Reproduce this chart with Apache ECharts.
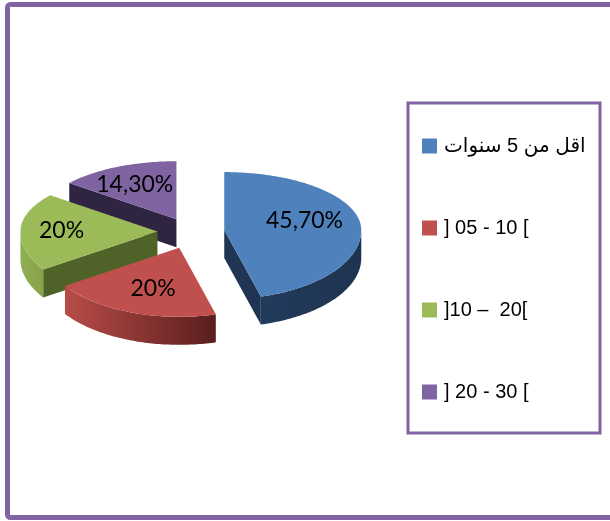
<!DOCTYPE html>
<html>
<head>
<meta charset="utf-8">
<script src="https://cdn.jsdelivr.net/npm/echarts@6/dist/echarts.min.js"></script>
<style>
html,body{margin:0;padding:0;background:#fff;}
#c{width:610px;height:521px;}
</style>
</head>
<body>
<div id="c"></div>
<script>
// ---- data ----
const categories = ['اقل من 5 سنوات', '] 05 - 10 [', ']10 –  20[', '] 20 - 30 ['];
const values = [45.7, 20, 20, 14.3];

// ---- styles ----
const topColors = ['#4F81BD', '#C0504D', '#9BBB59', '#8064A2'];
const radialColors = ['#1F3553', '#5C1F1E', '#4F6228', '#2F2543'];
const curvedColors = [
  ['#223B5C', '#1E3350'],
  ['#B84C49', '#5A1E1D'],
  ['#90AE52', '#86A34B'],
  ['#3F3158', '#3F3158']
];
const depthZ = [3, 4, 2, 1];
const labelNudge = [[-8, -4], [5, -1], [-7, 1], [-3, -1]];

const G = { cx: 191, cy: 232, rx: 137, ryB: 58, ryF: 69, h: 28, explode: 0.245, labelR: 0.65 };
const total = values.reduce((a, b) => a + b, 0);
const starts = [];
{ let acc = 0; values.forEach(v => { starts.push(acc / total * Math.PI * 2); acc += v; }); }

function pt(c, t, r) {
  const s = Math.sin(t), co = Math.cos(t);
  const ry = co > 0 ? G.ryB : G.ryF;
  return [c[0] + r * G.rx * s, c[1] - r * ry * co];
}
function arc(c, a0, a1, dy) {
  const pts = [];
  const n = Math.max(2, Math.ceil((a1 - a0) / (Math.PI / 180)));
  for (let k = 0; k <= n; k++) {
    const p = pt(c, a0 + (a1 - a0) * k / n, 1);
    pts.push([p[0], p[1] + dy]);
  }
  return pts;
}
function fmt(v) {
  return (Number.isInteger(v) ? String(v) : v.toFixed(2).replace('.', ',')) + '%';
}

function makeRender(i) {
  return function (params, api) {
    const v = api.value(0);
    const a0 = starts[i];
    const a1 = a0 + v / total * Math.PI * 2;
    const mid = (a0 + a1) / 2;
    const apex = pt([G.cx, G.cy], mid, G.explode);
    const h = G.h;
    const children = [];
    if (Math.sin(a0) < -1e-6) {
      const r = pt(apex, a0, 1);
      children.push({ type: 'polygon', z2: 1, shape: { points: [apex, r, [r[0], r[1] + h], [apex[0], apex[1] + h]] }, style: { fill: radialColors[i] } });
    }
    if (Math.sin(a1) > 1e-6) {
      const r = pt(apex, a1, 1);
      children.push({ type: 'polygon', z2: 1, shape: { points: [apex, r, [r[0], r[1] + h], [apex[0], apex[1] + h]] }, style: { fill: radialColors[i] } });
    }
    const c0 = Math.max(a0, Math.PI / 2), c1 = Math.min(a1, Math.PI * 3 / 2);
    if (c1 > c0) {
      const top = arc(apex, c0, c1, 0);
      const bot = arc(apex, c0, c1, h).reverse();
      children.push({
        type: 'polygon', z2: 2,
        shape: { points: top.concat(bot) },
        style: {
          fill: new echarts.graphic.LinearGradient(0, 0, 1, 0, [
            { offset: 0, color: curvedColors[i][0] },
            { offset: 1, color: curvedColors[i][1] }
          ])
        }
      });
    }
    children.push({ type: 'polygon', z2: 3, shape: { points: [apex].concat(arc(apex, a0, a1, 0)) }, style: { fill: topColors[i] } });
    const lp = pt(apex, mid, G.labelR);
    children.push({
      type: 'text', z2: 10,
      style: {
        text: fmt(v), x: lp[0] + labelNudge[i][0], y: lp[1] + labelNudge[i][1],
        align: 'center', verticalAlign: 'middle',
        font: '23px Lato, "Open Sans", sans-serif', fill: '#000'
      }
    });
    return { type: 'group', children: children };
  };
}

const series = categories.map((name, i) => ({
  type: 'custom',
  name: name,
  coordinateSystem: 'none',
  z: depthZ[i],
  silent: true,
  itemStyle: { color: topColors[i] },
  data: [[values[i]]],
  renderItem: makeRender(i)
}));

const chart = echarts.init(document.getElementById('c'), null, { renderer: 'canvas' });
chart.setOption({
  backgroundColor: '#ffffff',
  animation: false,
  legend: {
    orient: 'vertical',
    left: 422,
    top: 136,
    padding: 0,
    itemWidth: 15,
    itemHeight: 15,
    itemGap: 62,
    icon: 'rect',
    selectedMode: false,
    data: categories,
    textStyle: { fontSize: 20, lineHeight: 20, padding: [0, 0, 0, 2], color: '#000', fontFamily: '"Liberation Sans", "DejaVu Sans", Arial, sans-serif' }
  },
  graphic: [
    { type: 'rect', z: 100, silent: true, shape: { x: 7.5, y: 4.5, width: 640, height: 513, r: 3 }, style: { fill: null, stroke: '#8064A2', lineWidth: 5 } },
    { type: 'rect', z: 100, silent: true, shape: { x: 408, y: 103, width: 192, height: 330 }, style: { fill: null, stroke: '#8064A2', lineWidth: 3 } }
  ],
  series: series
});
</script>
</body>
</html>
